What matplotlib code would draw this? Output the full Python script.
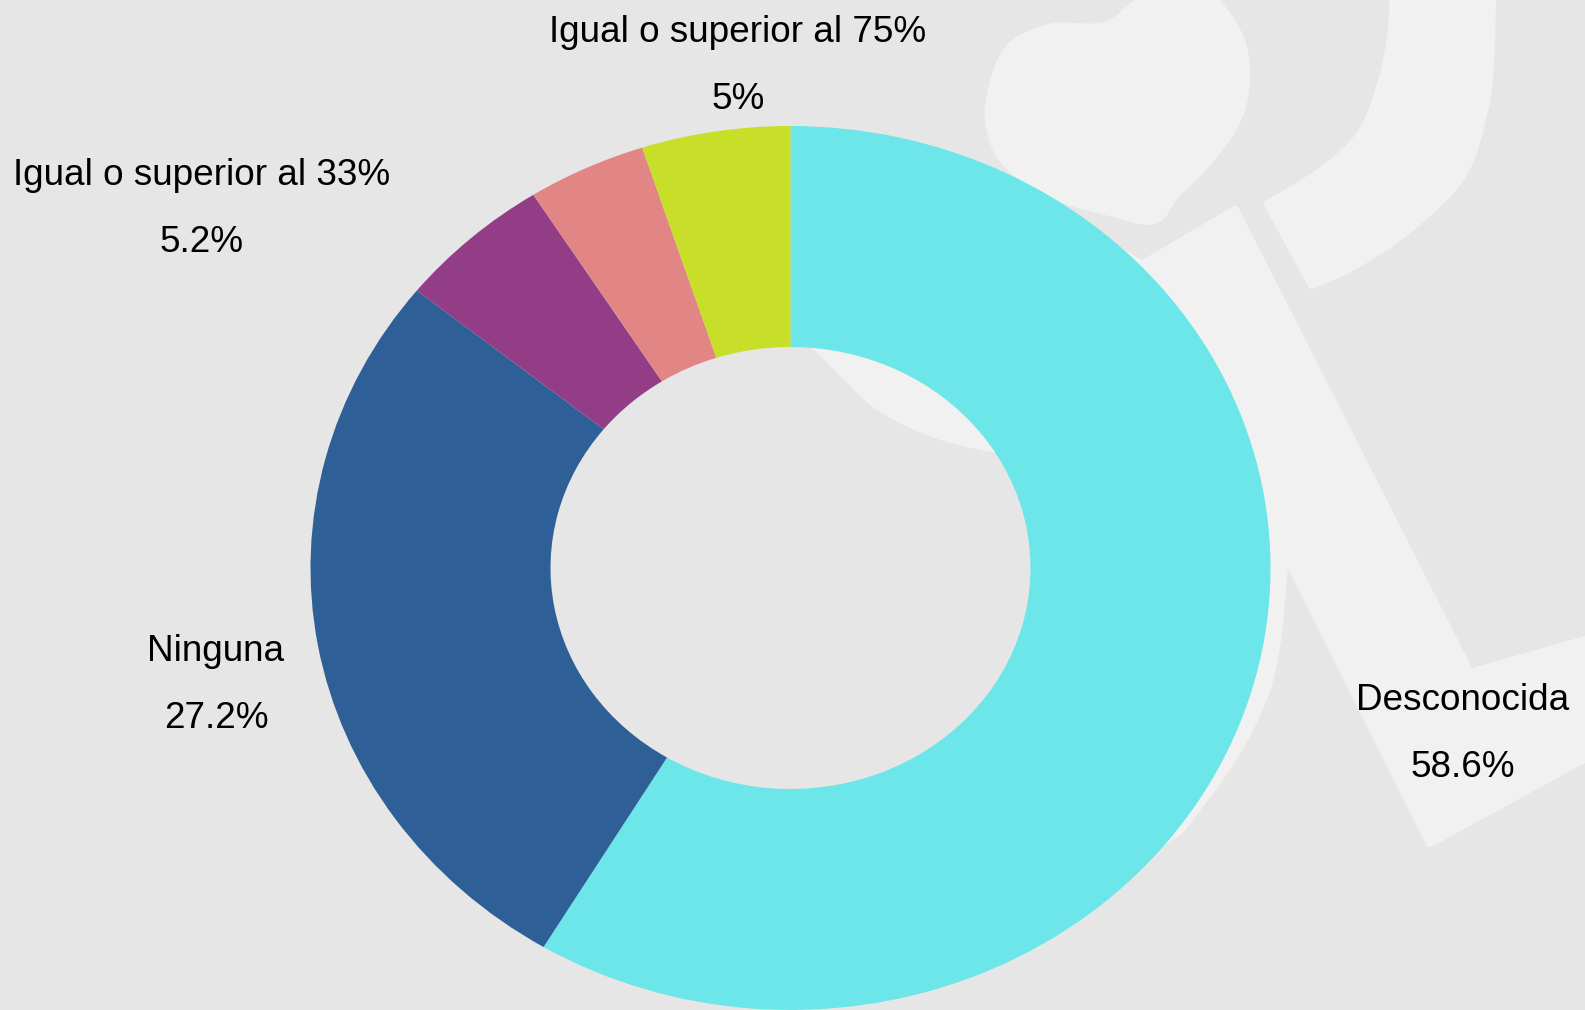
import numpy as np
import matplotlib
matplotlib.use('Agg')
import matplotlib.pyplot as plt
from matplotlib.patches import Polygon

# slices, clockwise from 12 o'clock
categories = ['Desconocida', 'Ninguna', 'Igual o superior al 33%',
              'Igual o superior al 65%', 'Igual o superior al 75%']
percent = [58.6, 27.2, 5.2, 4.0, 5.0]
show_label = [True, True, True, False, True]

colors = ['#6ce6e8', '#2e5f97', '#943d87', '#e28585', '#c7df29']
bg_color = '#e6e6e6'
mark_color = '#f1f1f1'

W, H = 1585, 1010
cx, cy = 790.5, 568.0      # donut centre in pixels (y from top)
rx, ry = 480.0, 442.0      # outer radii in pixels

# label baselines in pixels (name line, percent line is 67 px lower)
label_pos = [(1463, 710), (216, 661), (202, 185), None, (738, 42)]
line_gap = 67


def smooth(points, closed=False, n=12):
    """catmull-rom through the given points"""
    p = np.array(points, dtype=float)
    if closed:
        p = np.vstack([p[-1], p, p[0], p[1]])
    else:
        p = np.vstack([p[0], p, p[-1]])
    out = []
    t = np.linspace(0, 1, n, endpoint=False)[:, None]
    for i in range(1, len(p) - 2):
        p0, p1, p2, p3 = p[i - 1], p[i], p[i + 1], p[i + 2]
        seg = 0.5 * ((2 * p1) + (-p0 + p2) * t + (2 * p0 - 5 * p1 + 4 * p2 - p3) * t ** 2
                     + (-p0 + 3 * p1 - 3 * p2 + p3) * t ** 3)
        out.append(seg)
    if not closed:
        out.append(p[-2][None, :])
    return np.vstack(out)


plt.rcParams['font.family'] = ['Liberation Sans', 'DejaVu Sans']

fig = plt.figure(figsize=(W / 100, H / 100), dpi=100)
fig.patch.set_facecolor(bg_color)

# background with the faint logo
ax_bg = fig.add_axes([0, 0, 1, 1], zorder=0)
ax_bg.set_xlim(0, W)
ax_bg.set_ylim(H, 0)
ax_bg.set_facecolor(bg_color)
ax_bg.axis('off')

heart = smooth([(990, 100), (1008, 50), (1050, 28), (1105, 26), (1145, 0), (1200, -8),
                (1236, 30), (1246, 75), (1236, 122), (1205, 165), (1175, 195), (1154, 220),
                (1110, 212), (1050, 194), (1008, 165), (992, 135)], closed=True)
arc_outer = smooth([(1492, -10), (1490, 60), (1484, 110), (1462, 175), (1410, 228),
                    (1355, 265), (1312, 285)])
arc_inner = smooth([(1268, 204), (1320, 172), (1360, 135), (1381, 85), (1392, 30), (1393, -10)])
arc = np.vstack([arc_outer, arc_inner])
leg = [(1142, 265), (1235, 210), (1470, 673), (1600, 636), (1600, 750),
       (1430, 843), (1285, 553)]
hole_edge = smooth([(795, 330), (820, 350), (850, 380), (880, 407), (930, 432), (987, 447),
                    (1045, 455)])
right_edge = smooth([(1180, 830), (1220, 777), (1247, 733), (1267, 687), (1277, 640),
                     (1281, 600), (1285, 553)])
body = np.vstack([hole_edge, [(1120, 600), (1110, 780), (1080, 900)], right_edge,
                  [(1250, 400), (1142, 265), (1000, 180), (850, 250)]])
for shape in [heart, arc, leg, body]:
    ax_bg.add_patch(Polygon(shape, closed=True, facecolor=mark_color,
                            edgecolor=mark_color, linewidth=6, joinstyle='round'))

# donut
ax = fig.add_axes([0, 0, 1, 1], zorder=1)
ax.pie(percent, colors=colors, startangle=90, counterclock=False, radius=1.0,
       wedgeprops=dict(width=0.5, linewidth=0))
ax.set_aspect('auto')
ax.set_xlim(-cx / rx, (W - cx) / rx)
ax.set_ylim(-(H - cy) / ry, cy / ry)
ax.patch.set_alpha(0)
ax.axis('off')

# labels go on a top layer so the donut never hides them
ax_txt = fig.add_axes([0, 0, 1, 1], zorder=2)
ax_txt.set_xlim(0, W)
ax_txt.set_ylim(H, 0)
ax_txt.patch.set_alpha(0)
ax_txt.axis('off')

for k in range(len(categories)):
    if not show_label[k]:
        continue
    px, py = label_pos[k]
    ax_txt.text(px, py, categories[k], ha='center', va='baseline',
                fontsize=26.6, color='black')
    ax_txt.text(px, py + line_gap, '{:g}%'.format(percent[k]), ha='center',
                va='baseline', fontsize=26.6, color='black')

fig.savefig('out.png', dpi=100, facecolor=bg_color)
